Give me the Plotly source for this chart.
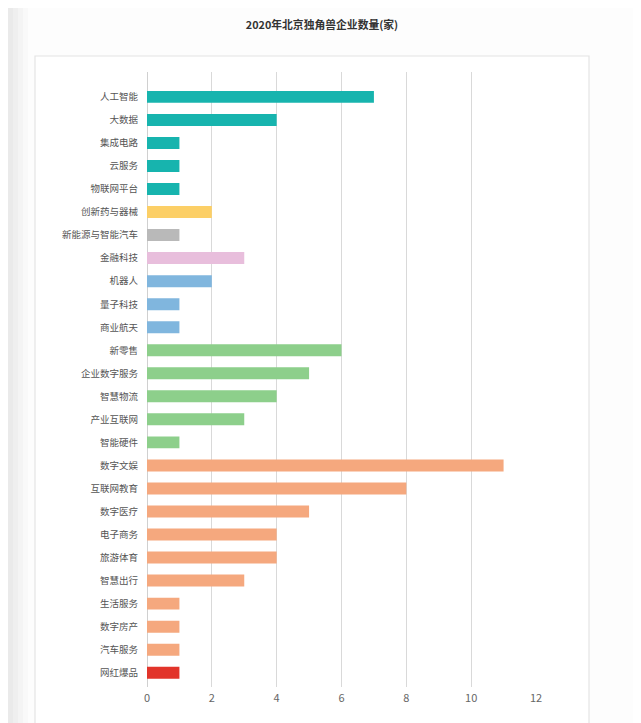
import plotly.graph_objects as go

categories = ["人工智能", "大数据", "集成电路", "云服务", "物联网平台", "创新药与器械",
              "新能源与智能汽车", "金融科技", "机器人", "量子科技", "商业航天", "新零售",
              "企业数字服务", "智慧物流", "产业互联网", "智能硬件", "数字文娱", "互联网教育",
              "数字医疗", "电子商务", "旅游体育", "智慧出行", "生活服务", "数字房产",
              "汽车服务", "网红爆品"]
values = [7, 4, 1, 1, 1, 2, 1, 3, 2, 1, 1, 6, 5, 4, 3, 1, 11, 8, 5, 4, 4, 3, 1, 1, 1, 1]
groups = ["ai"] * 5 + ["med"] + ["auto"] + ["fin"] + ["robot"] * 3 + ["retail"] * 5 + ["digital"] * 9 + ["hot"]
group_colors = {"ai": "#17b4ae", "med": "#fccf66", "auto": "#b9b9b9", "fin": "#e8bedc",
                "robot": "#80b6de", "retail": "#8dcf8b", "digital": "#f5a87e", "hot": "#e2342a"}
x_ticks = [0, 2, 4, 6, 8, 10, 12]
title = "2020年北京独角兽企业数量(家)"

FONT = "Noto Sans CJK SC"
OFF = 8  # page body margin
W, H = 641 - OFF, 723 - OFF
L, R, T, B = 147 - OFF, 536 - OFF, 72 - OFF, 687 - OFF


def px_x(p):
    return (p - OFF - L) / (R - L)


def px_y(p):
    return (B - (p - OFF)) / (B - T)


fig = go.Figure(go.Bar(
    y=categories, x=values, orientation="h",
    marker=dict(color=[group_colors[g] for g in groups], line=dict(width=0)),
    width=0.52, hoverinfo="x+y",
))

shapes = []
# left gray strip (soft gradient)
for x0, x1, c in [(8, 13, "#eaeaea"), (13, 18, "#efefef"), (18, 23, "#f4f4f4"), (23, 28, "#f9f9f9")]:
    shapes.append(dict(type="rect", xref="paper", yref="paper", x0=px_x(x0), x1=px_x(x1),
                       y0=px_y(740), y1=px_y(0), fillcolor=c, line=dict(width=0), layer="below"))
# panel
shapes.append(dict(type="rect", xref="paper", yref="paper", x0=px_x(35), x1=px_x(589),
                   y0=px_y(745), y1=px_y(56), fillcolor="white",
                   line=dict(color="#e4e4e4", width=1.2), layer="below"))

fig.update_layout(
    width=W, height=H,
    margin=dict(l=L, r=W - R, t=T, b=H - B, pad=0),
    paper_bgcolor="#fdfdfd", plot_bgcolor="rgba(0,0,0,0)",
    title=dict(text=title, xref="container", x=(322 - OFF) / W, xanchor="center",
               yref="container", y=1 - (25 - OFF) / H, yanchor="middle",
               font=dict(family=FONT, size=10.8, color="#333333", weight="bold")),
    font=dict(family=FONT, size=11, color="#595959"),
    showlegend=False,
    shapes=shapes,
    bargap=0.48,
)
fig.update_xaxes(range=[0, 12], tickvals=x_ticks, ticktext=[str(v) for v in x_ticks],
                 showgrid=True, gridcolor="#d9d9d9", gridwidth=1, zeroline=True,
                 zerolinecolor="#d0d0d0", zerolinewidth=1, showline=False,
                 tickfont=dict(size=11, color="#666666"), ticks="", ticklabelstandoff=3,
                 fixedrange=True)
fig.update_yaxes(type="category", categoryorder="array", categoryarray=categories,
                 range=[25.62, -1.08], showgrid=False, zeroline=False, showline=False,
                 ticks="", ticklabelstandoff=8, tickfont=dict(size=9.5, color="#555555"),
                 fixedrange=True)

fig.write_html("out.html")
